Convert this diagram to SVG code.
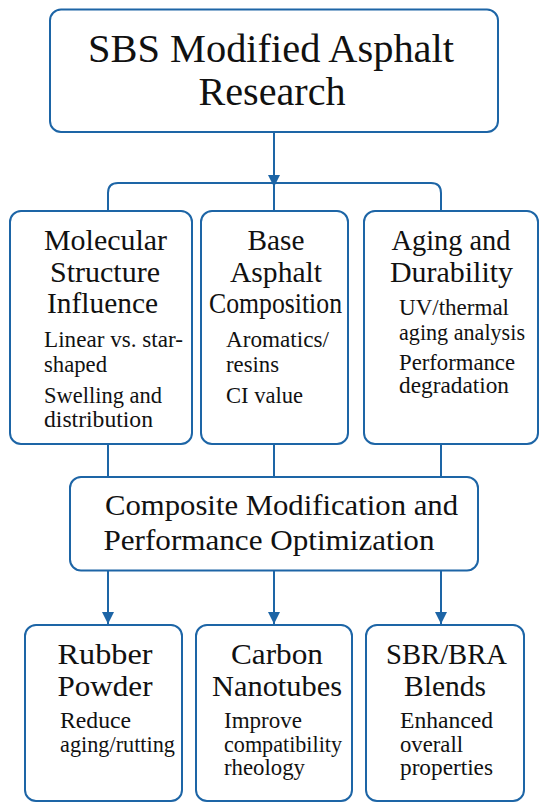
<svg xmlns="http://www.w3.org/2000/svg" width="550" height="812" viewBox="0 0 550 812">
<style>
.box{fill:#fff;stroke:#1d65a6;stroke-width:2}
.con{fill:none;stroke:#1d65a6;stroke-width:2}
text{font-family:"Liberation Serif","Times New Roman",Times,serif;fill:#111}
.t0{font-size:41px;text-anchor:middle}
.t1{font-size:29px;text-anchor:middle}
.t2{font-size:30px}
.t3{font-size:30px;text-anchor:middle}
.s{font-size:22.5px}
</style>
<defs>
<marker id="arr" viewBox="0 0 12 12" refX="12" refY="6" markerWidth="12" markerHeight="12" markerUnits="userSpaceOnUse" orient="auto">
<path d="M0,0 L12,6 L0,12 z" fill="#1d65a6"/>
</marker>
</defs>
<rect width="550" height="812" fill="#fff"/>
<g id="connectors">
<path class="con" d="M274,132 V187" marker-end="url(#arr)"/>
<path class="con" d="M108,211 V193 Q108,183 118,183 H431 Q441,183 441,193 V211 M274,183 V211"/>
<path class="con" d="M108,444 V477 M274,444 V477 M441,444 V477"/>
<path class="con" d="M108,570 V624" marker-end="url(#arr)"/>
<path class="con" d="M274,570 V624" marker-end="url(#arr)"/>
<path class="con" d="M441,570 V624" marker-end="url(#arr)"/>
</g>
<g id="root">
<rect class="box" x="50" y="9.5" width="448" height="122.5" rx="11"/>
<text class="t0" x="271" y="62" textLength="366" lengthAdjust="spacingAndGlyphs">SBS Modified Asphalt</text>
<text class="t0" x="272" y="105" textLength="147" lengthAdjust="spacingAndGlyphs">Research</text>
</g>
<g id="molecular">
<rect class="box" x="10" y="211" width="182" height="233" rx="11"/>
<text class="t1" x="105.5" y="250" textLength="123" lengthAdjust="spacingAndGlyphs">Molecular</text>
<text class="t1" x="105" y="282" textLength="110" lengthAdjust="spacingAndGlyphs">Structure</text>
<text class="t1" x="102.5" y="313" textLength="111" lengthAdjust="spacingAndGlyphs">Influence</text>
<text class="s" x="44" y="347" textLength="139" lengthAdjust="spacingAndGlyphs">Linear vs. star-</text>
<text class="s" x="44" y="372" textLength="63" lengthAdjust="spacingAndGlyphs">shaped</text>
<text class="s" x="44" y="403" textLength="118" lengthAdjust="spacingAndGlyphs">Swelling and</text>
<text class="s" x="44" y="427" textLength="109" lengthAdjust="spacingAndGlyphs">distribution</text>
</g>
<g id="base">
<rect class="box" x="201" y="211" width="147" height="233" rx="11"/>
<text class="t1" x="276" y="250" textLength="57" lengthAdjust="spacingAndGlyphs">Base</text>
<text class="t1" x="276" y="282" textLength="92" lengthAdjust="spacingAndGlyphs">Asphalt</text>
<text class="t1" x="275.5" y="313" textLength="133" lengthAdjust="spacingAndGlyphs">Composition</text>
<text class="s" x="226" y="347" textLength="103" lengthAdjust="spacingAndGlyphs">Aromatics/</text>
<text class="s" x="226" y="372" textLength="53" lengthAdjust="spacingAndGlyphs">resins</text>
<text class="s" x="226" y="403" textLength="77" lengthAdjust="spacingAndGlyphs">CI value</text>
</g>
<g id="aging">
<rect class="box" x="364" y="211" width="174" height="233" rx="11"/>
<text class="t1" x="451" y="250" textLength="119" lengthAdjust="spacingAndGlyphs">Aging and</text>
<text class="t1" x="451.5" y="282" textLength="123" lengthAdjust="spacingAndGlyphs">Durability</text>
<text class="s" x="399" y="315" textLength="110" lengthAdjust="spacingAndGlyphs">UV/thermal</text>
<text class="s" x="399" y="340" textLength="126" lengthAdjust="spacingAndGlyphs">aging analysis</text>
<text class="s" x="399" y="370" textLength="116" lengthAdjust="spacingAndGlyphs">Performance</text>
<text class="s" x="399" y="393" textLength="110" lengthAdjust="spacingAndGlyphs">degradation</text>
</g>
<g id="composite">
<rect class="box" x="70" y="477" width="408" height="93.5" rx="11"/>
<text class="t2" x="105" y="515" textLength="353" lengthAdjust="spacingAndGlyphs">Composite Modification and</text>
<text class="t2" x="103.5" y="550" textLength="331" lengthAdjust="spacingAndGlyphs">Performance Optimization</text>
</g>
<g id="rubber">
<rect class="box" x="25" y="625" width="157" height="176" rx="11"/>
<text class="t3" x="105" y="664" textLength="95" lengthAdjust="spacingAndGlyphs">Rubber</text>
<text class="t3" x="105" y="696" textLength="95" lengthAdjust="spacingAndGlyphs">Powder</text>
<text class="s" x="60" y="728" textLength="71" lengthAdjust="spacingAndGlyphs">Reduce</text>
<text class="s" x="60" y="752" textLength="115" lengthAdjust="spacingAndGlyphs">aging/rutting</text>
</g>
<g id="carbon">
<rect class="box" x="196" y="625" width="156" height="176" rx="11"/>
<text class="t3" x="277" y="664" textLength="92" lengthAdjust="spacingAndGlyphs">Carbon</text>
<text class="t3" x="277" y="696" textLength="130" lengthAdjust="spacingAndGlyphs">Nanotubes</text>
<text class="s" x="224" y="728" textLength="78" lengthAdjust="spacingAndGlyphs">Improve</text>
<text class="s" x="224" y="752" textLength="118" lengthAdjust="spacingAndGlyphs">compatibility</text>
<text class="s" x="224" y="775" textLength="81" lengthAdjust="spacingAndGlyphs">rheology</text>
</g>
<g id="sbr">
<rect class="box" x="366" y="625" width="158" height="176" rx="11"/>
<text class="t3" x="446.5" y="664" textLength="121" lengthAdjust="spacingAndGlyphs">SBR/BRA</text>
<text class="t3" x="445" y="696" textLength="82" lengthAdjust="spacingAndGlyphs">Blends</text>
<text class="s" x="400" y="728" textLength="93" lengthAdjust="spacingAndGlyphs">Enhanced</text>
<text class="s" x="400" y="752" textLength="63" lengthAdjust="spacingAndGlyphs">overall</text>
<text class="s" x="400" y="775" textLength="93" lengthAdjust="spacingAndGlyphs">properties</text>
</g>
</svg>
